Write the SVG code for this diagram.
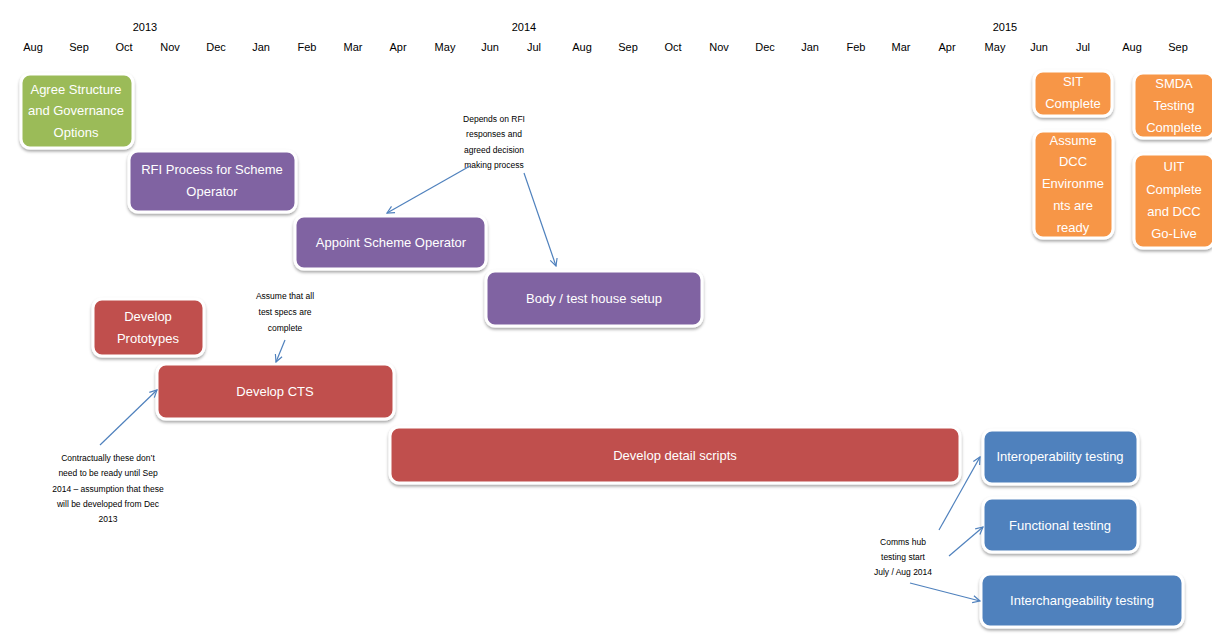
<svg xmlns="http://www.w3.org/2000/svg" width="1212" height="638" viewBox="0 0 1212 638">
<defs>
<filter id="sh" x="-10%" y="-10%" width="120%" height="130%">
<feDropShadow dx="0" dy="2" stdDeviation="1.5" flood-color="#000" flood-opacity="0.35"/>
</filter>
<marker id="ah" viewBox="0 0 10 10" refX="9" refY="5" markerWidth="9" markerHeight="9" orient="auto" markerUnits="userSpaceOnUse">
<path d="M1,1 L9,5 L1,9" fill="none" stroke="#4F81BD" stroke-width="1.3"/>
</marker>
<style>
.b{stroke:#fff;stroke-width:3;filter:url(#sh)}
.g{fill:#9BBB59}.p{fill:#8064A2}.r{fill:#C0504D}.bl{fill:#4F81BD}.o{fill:#F79646}
.t{font-family:"Liberation Sans",Arial,sans-serif;font-size:13px;fill:#fff;text-anchor:middle}
.ax{font-family:"Liberation Sans",Arial,sans-serif;font-size:11px;fill:#000;text-anchor:middle}
.n{font-family:"Liberation Sans",Arial,sans-serif;font-size:8.5px;fill:#000;text-anchor:middle}
.c{stroke:#4F81BD;stroke-width:1.2;fill:none;marker-end:url(#ah)}
</style>
</defs>
<rect width="1212" height="638" fill="#fff"/>
<g id="axis">
<text class="ax" x="145" y="31">2013</text>
<text class="ax" x="524" y="31">2014</text>
<text class="ax" x="1005" y="31">2015</text>
<text class="ax" x="33" y="51">Aug</text>
<text class="ax" x="79" y="51">Sep</text>
<text class="ax" x="124" y="51">Oct</text>
<text class="ax" x="170" y="51">Nov</text>
<text class="ax" x="216" y="51">Dec</text>
<text class="ax" x="261" y="51">Jan</text>
<text class="ax" x="307" y="51">Feb</text>
<text class="ax" x="353" y="51">Mar</text>
<text class="ax" x="398" y="51">Apr</text>
<text class="ax" x="445" y="51">May</text>
<text class="ax" x="490" y="51">Jun</text>
<text class="ax" x="534" y="51">Jul</text>
<text class="ax" x="582" y="51">Aug</text>
<text class="ax" x="628" y="51">Sep</text>
<text class="ax" x="673" y="51">Oct</text>
<text class="ax" x="719" y="51">Nov</text>
<text class="ax" x="765" y="51">Dec</text>
<text class="ax" x="810" y="51">Jan</text>
<text class="ax" x="856" y="51">Feb</text>
<text class="ax" x="901" y="51">Mar</text>
<text class="ax" x="947" y="51">Apr</text>
<text class="ax" x="995" y="51">May</text>
<text class="ax" x="1039" y="51">Jun</text>
<text class="ax" x="1083" y="51">Jul</text>
<text class="ax" x="1132" y="51">Aug</text>
<text class="ax" x="1178" y="51">Sep</text>
</g>
<g id="n-agree"><rect class="b g" x="21" y="74" width="112" height="74" rx="9"/>
<text class="t" x="76" y="94">Agree Structure</text><text class="t" x="76" y="115">and Governance</text><text class="t" x="76" y="137">Options</text></g>
<g id="n-rfi"><rect class="b p" x="129" y="151" width="167" height="61" rx="9"/>
<text class="t" x="212" y="174">RFI Process for Scheme</text><text class="t" x="212" y="196">Operator</text></g>
<g id="n-appoint"><rect class="b p" x="295" y="216" width="191" height="53" rx="9"/>
<text class="t" x="391" y="247">Appoint Scheme Operator</text></g>
<g id="n-body"><rect class="b p" x="486" y="271" width="216" height="55" rx="9"/>
<text class="t" x="594" y="303">Body / test house setup</text></g>
<g id="n-proto"><rect class="b r" x="93" y="299" width="111" height="57" rx="9"/>
<text class="t" x="148" y="321">Develop</text><text class="t" x="148" y="343">Prototypes</text></g>
<g id="n-cts"><rect class="b r" x="157" y="364" width="237" height="55" rx="9"/>
<text class="t" x="275" y="396">Develop CTS</text></g>
<g id="n-scripts"><rect class="b r" x="390" y="427" width="570" height="56" rx="9"/>
<text class="t" x="675" y="460">Develop detail scripts</text></g>
<g id="n-interop"><rect class="b bl" x="983" y="430" width="155" height="54" rx="9"/>
<text class="t" x="1060" y="461">Interoperability testing</text></g>
<g id="n-func"><rect class="b bl" x="983" y="498" width="155" height="54" rx="9"/>
<text class="t" x="1060" y="530">Functional testing</text></g>
<g id="n-interch"><rect class="b bl" x="981" y="574" width="202" height="53" rx="9"/>
<text class="t" x="1082" y="605">Interchangeability testing</text></g>
<g id="n-sit"><rect class="b o" x="1034" y="71" width="78" height="45" rx="9"/>
<text class="t" x="1073" y="86">SIT</text><text class="t" x="1073" y="108">Complete</text></g>
<g id="n-smda"><rect class="b o" x="1134" y="73" width="80" height="65" rx="9"/>
<text class="t" x="1174" y="88">SMDA</text><text class="t" x="1174" y="110">Testing</text><text class="t" x="1174" y="132">Complete</text></g>
<g id="n-env"><rect class="b o" x="1034" y="131" width="79" height="107" rx="9"/>
<text class="t" x="1073" y="145">Assume</text><text class="t" x="1073" y="166">DCC</text><text class="t" x="1073" y="188">Environme</text><text class="t" x="1073" y="210">nts are</text><text class="t" x="1073" y="232">ready</text></g>
<g id="n-uit"><rect class="b o" x="1134" y="154" width="80" height="94" rx="9"/>
<text class="t" x="1174" y="171">UIT</text><text class="t" x="1174" y="194">Complete</text><text class="t" x="1174" y="216">and DCC</text><text class="t" x="1174" y="238">Go-Live</text></g>
<g id="notes">
<text class="n" x="494" y="122">Depends on RFI</text><text class="n" x="494" y="137">responses and</text><text class="n" x="494" y="153">agreed  decision</text><text class="n" x="494" y="168">making  process</text>
<text class="n" x="285" y="299">Assume that all</text><text class="n" x="285" y="315">test specs are</text><text class="n" x="285" y="331">complete</text>
<text class="n" x="108" y="461">Contractually these don’t</text><text class="n" x="108" y="476">need to be ready until Sep</text><text class="n" x="108" y="492">2014 – assumption that these</text><text class="n" x="108" y="507">will be developed  from Dec</text><text class="n" x="108" y="522">2013</text>
<text class="n" x="903" y="545">Comms hub</text><text class="n" x="903" y="560">testing  start</text><text class="n" x="903" y="575">July / Aug 2014</text>
</g>
<g id="connectors">
<line class="c" x1="470" y1="166" x2="387" y2="213"/>
<line class="c" x1="524" y1="173" x2="556" y2="266"/>
<line class="c" x1="285" y1="340" x2="276" y2="362"/>
<line class="c" x1="100" y1="445" x2="157" y2="390"/>
<line class="c" x1="939" y1="530" x2="980" y2="457"/>
<line class="c" x1="949" y1="556" x2="983" y2="527"/>
<line class="c" x1="910" y1="583" x2="980" y2="601"/>
</g>
</svg>
